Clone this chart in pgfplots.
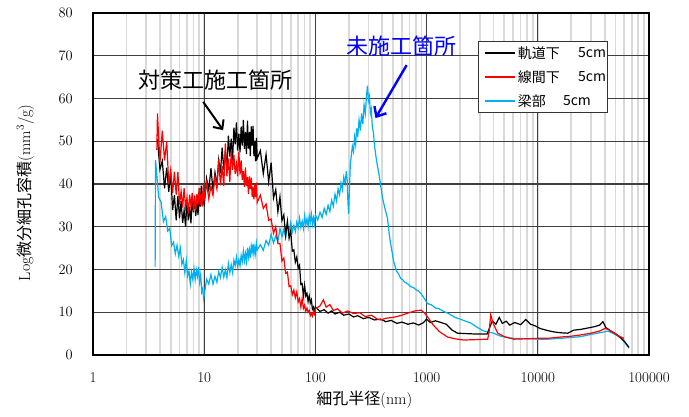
\documentclass[border=0pt]{standalone}
\usepackage{fontspec}
\usepackage{pgfplots}
\pgfplotsset{compat=1.18}
\usetikzlibrary{arrows.meta}
\newfontfamily\cjk{Noto Sans CJK JP}
\definecolor{skyb}{RGB}{0,176,240}
\begin{document}
\begin{tikzpicture}
\path[use as bounding box] (-93pt,-61pt) rectangle (596pt,355pt);
\begin{axis}[
  at={(0pt,0pt)}, anchor=south west,
  scale only axis, width=556pt, height=342pt,
  xmode=log, xmin=1, xmax=100000, ymin=0, ymax=80,
  ytick={0,10,...,80},
  xtick={1,10,100,1000,10000,100000},
  xticklabels={1,10,100,1000,10000,100000},
  xmajorgrids=true, xminorgrids=true, ymajorgrids=true,
  major grid style={black!75, line width=1.3pt},
  minor grid style={black!15, line width=1.7pt},
  major tick length=0pt, minor tick length=0pt,
  axis line style={line width=2.4pt},
  tick label style={font=\fontsize{15}{18}\selectfont},
  yticklabel style={anchor=east, inner sep=0pt, xshift=-20pt},
  xticklabel style={anchor=north, inner sep=0pt, yshift=-17pt},
  xlabel={{\cjk 細孔半径}(nm)},
  ylabel={Log{\cjk 微分細孔容積}(mm\textsuperscript{3}/g)},
  xlabel style={at={(axis description cs:0.488,-0.131)}, anchor=center, font=\fontsize{16}{19}\selectfont},
  ylabel style={at={(axis description cs:-0.122,0.474)}, anchor=center, font=\fontsize{16}{19}\selectfont},
  clip=false,
]
% blue: 梁部
\addplot[skyb, line width=1.2pt] coordinates {
(3.62,20.6)(3.65,45.6)(3.7,43.8)(3.9,36.9)(4.1,35.7)(4.3,31.2)(4.5,32.4)(4.7,29.0)(4.9,29.6)(5.1,25.6)(5.3,26.4)(5.5,23.7)(5.7,25.7)(5.9,23.1)(6.1,25.0)(6.3,21.2)(6.5,22.3)(6.7,19.2)(6.9,22.1)(7.1,18.5)(7.3,19.7)(7.5,16.6)(7.7,19.4)(7.9,17.7)(8.1,20.2)(8.3,17.6)(8.5,19.9)(8.7,18.4)(8.9,20.6)(9.1,17.1)(9.3,18.8)(9.5,14.7)(9.7,15.5)(9.9,13.2)
(10.5,17.7)(11,16.6)(11.5,18.8)(12,16.6)(12.5,18.4)(13,17.0)(13.5,19.5)(14,18.1)(14.5,20.5)(15,18.2)(15.5,19.9)(16,18.1)(16.5,21.4)(17,19.3)(17.5,21.1)(18,19.3)(18.5,22.2)(19,20.9)(19.5,22.9)(20,20.6)(20.5,22.3)(21,20.9)(21.5,23.3)(22,21.9)(22.5,24.3)(23,22.0)(23.5,23.7)(24,21.9)(24.5,25.1)(25,22.9)(25.5,24.6)(26,22.7)(26.5,25.5)(27,24.1)(27.5,26.0)(28,23.6)(28.5,25.2)(29,23.7)(29.5,26.1)(30,24.6)
(32,25.8)(34,24.5)(36,26.8)(38,25.7)(40,28.2)(42,26.2)(44,27.9)(46,26.5)(48,29.6)(50,27.7)(52,29.4)(54,27.6)(56,30.4)(58,29.1)(60,31.0)(62,28.8)(64,30.3)(66,28.9)(68,31.1)(70,29.8)(72,32.0)(74,29.8)(76,31.3)(78,29.6)(80,32.5)(82,30.4)(84,31.9)(86,30.0)(88,32.6)(90,31.1)(92,32.9)(94,30.6)(96,32.1)(98,30.6)(100,32.8)
(105,31.6)(110,33.4)(115,32.2)(120,34.3)(125,32.9)(130,35.0)(135,33.6)(140,36.2)(145,34.8)(150,37.6)(155,36.0)(160,38.9)(165,37.5)(170,40.3)(175,38.7)(180,41.6)(185,40.2)(190,43.0)(193,41.0)(196,36.0)(199,33.0)(202,38.0)(206,44.5)(210,46.5)(215,48.8)(220,47.6)(225,51.0)(230,49.2)(235,53.0)(240,51.0)(247,55.0)(254,52.5)(260,56.5)(267,54.0)(274,58.5)(281,56.5)(288,60.5)(294,63.0)(300,59.5)(306,60.5)(312,56.5)(318,57.5)(325,53.5)(333,52.0)(340,49.0)(350,46.5)(360,44.5)(372,42.5)(385,40.0)(400,37.0)(420,34.5)(445,32.0)(460,28.5)(475,26.0)(490,24.0)(504,22.0)(520,20.8)(540,19.5)(560,19.0)(583,18.0)(610,17.6)(640,17.0)(680,16.6)(717,16.0)(760,15.8)(800,15.3)(840,15.0)(883,14.5)(950,13.3)(1020,12.0)(1100,11.8)(1200,11.0)(1300,10.8)(1400,10.3)(1545,9.8)(1700,9.2)(1800,8.8)(2100,8.2)(2490,7.5)(2800,6.6)(3265,5.6)(3700,5.3)(4015,5.1)(4500,4.5)(5200,4.1)(6080,3.9)(8000,3.8)(10000,3.7)(12300,3.7)(16000,3.9)(20000,4.1)(24400,4.3)(30000,4.8)(36000,5.2)(42800,5.6)(48000,5.0)(52000,4.5)(56000,3.9)(61000,2.8)(66100,1.6)
};
% black: 軌道下
\addplot[black, line width=1.2pt] coordinates {
(3.8,50.5)(4.0,43.4)(4.2,45.4)(4.4,39.0)(4.6,43.8)(4.8,38.2)(5.0,42.6)(5.2,33.9)(5.4,37.4)(5.6,31.5)(5.8,37.2)(6.0,32.0)(6.2,36.0)(6.4,30.9)(6.6,33.9)(6.8,30.0)(7.0,36.0)(7.2,31.5)(7.4,34.7)(7.6,30.8)(7.8,36.4)(8.0,33.4)(8.2,37.3)(8.4,32.5)(8.6,35.8)(8.8,32.8)(9.0,37.6)(9.2,34.7)(9.4,39.6)(9.6,34.9)(9.8,38.3)(10.0,34.8)
(10.5,41.3)(11,38.5)(11.5,43.7)(12,38.5)(12.5,42.7)(13,39.7)(13.5,45.6)(14,42.5)(14.5,48.5)(15,43.4)(15.5,47.6)(16,43.7)(16.5,51.3)(17,46.4)(17.5,50.6)(18,45.5)(18.5,53.2)(19,49.3)(19.5,54.4)(20,47.8)(20.5,51.8)(21,47.4)(21.5,53.4)(22,49.0)(22.5,55.0)(23,48.2)(23.5,52.2)(24,47.0)(24.5,54.8)(25,48.3)(25.5,52.2)(26,46.5)(26.5,53.5)(27,49.0)(27.5,53.6)(28,46.5)(28.5,50.1)(29,45.3)(29.5,50.8)(30,46.0)
(32,47.8)(34,42.4)(36,46.9)(38,40.5)(40,45.0)(42,36.7)(44,38.7)(46,33.5)(48,37.0)(50,31.5)(52,32.8)(54,28.0)(56,31.3)(58,27.3)(60,29.1)(62,24.3)(64,24.6)(66,21.7)(68,22.9)(70,20.3)(72,21.0)(74,16.5)(76,16.7)(78,13.8)(80,16.3)(82,13.8)(84,14.4)(86,12.5)(88,13.8)(90,12.2)(92,12.9)(94,10.7)(96,11.2)(98,9.9)(100,11.2)
(110,10.2)(120,10.6)(130,9.8)(140,10.3)(150,9.6)(165,10.0)(180,9.3)(200,9.6)(220,8.9)(240,9.2)(270,8.5)(300,8.8)(340,8.2)(385,8.4)(430,7.8)(480,8.1)(540,7.4)(600,7.7)(680,7.2)(760,7.5)(850,7.0)(940,7.6)(1000,8.4)(1080,7.6)(1200,8.0)(1350,7.6)(1500,7.2)(1700,5.8)(1900,5.1)(2300,5.0)(2800,4.9)(3500,4.9)(3700,6.5)(3900,8.0)(4200,7.2)(4500,8.8)(4800,7.4)(5200,7.9)(5600,7.0)(6200,7.6)(7000,7.1)(7800,8.3)(8600,7.2)(9500,6.8)(10500,6.2)(12300,5.7)(14000,5.4)(16000,5.2)(18600,5.1)(21000,5.8)(24400,6.0)(28000,6.3)(32000,6.6)(36000,7.0)(38500,7.8)(41000,6.4)(45500,5.6)(50000,5.0)(56000,4.0)(61000,3.0)(66000,1.8)
};
% red: 線間下
\addplot[red, line width=1.2pt] coordinates {
(3.75,48)(3.8,56.5)(4.0,45.0)(4.2,52.5)(4.4,45.5)(4.6,50.0)(4.8,40.0)(5.0,43.3)(5.2,37.9)(5.4,42.9)(5.6,37.5)(5.8,42.8)(6.0,35.2)(6.2,38.3)(6.4,34.5)(6.6,39.0)(6.8,34.5)(7.0,36.8)(7.2,33.1)(7.4,37.5)(7.6,34.8)(7.8,37.9)(8.0,33.7)(8.2,36.3)(8.4,33.8)(8.6,37.7)(8.8,35.2)(9.0,39.1)(9.2,35.1)(9.4,37.8)(9.6,34.7)(9.8,39.9)(10.0,36.1)
(10.5,40.3)(11,36.5)(11.5,39.5)(12,37.4)(12.5,41.8)(13,39.0)(13.5,45.8)(14,39.7)(14.5,44.2)(15,39.5)(15.5,49.5)(16,41.8)(16.5,46.0)(17,40.5)(17.5,47.7)(18,43.3)(18.5,46.8)(19,42.4)(19.5,44.7)(20,41.8)(20.5,47.5)(21,42.2)(21.5,45.5)(22,40.9)(22.5,43.0)(23,39.3)(23.5,43.9)(24,39.5)(24.5,41.6)(25,37.7)(25.5,41.8)(26,38.8)(26.5,41.5)(27,37.0)(27.5,39.3)(28,36.4)(28.5,39.9)(29,37.0)(29.5,40.3)(30,35.7)
(32,37.4)(34,34.3)(36,35.3)(38,31.5)(40,31.8)(42,28.5)(44,30.0)(46,26.1)(48,26.1)(50,22.0)(52,22.7)(54,19.1)(56,19.4)(58,16.0)(60,16.2)(62,14.1)(64,15.2)(66,13.4)(68,14.8)(70,12.4)(72,13.2)(74,11.2)(76,13.2)(78,10.9)(80,11.7)(82,10.2)(84,11.0)(86,10.0)(88,10.4)(90,9.2)(92,9.7)(94,9.1)(96,10.1)(98,9.6)(100,10.8)
(110,11.5)(118,12.9)(125,11.2)(135,11.8)(145,10.4)(158,10.8)(175,9.8)(195,10.3)(220,9.7)(250,9.9)(280,9.0)(320,9.3)(360,8.4)(385,8.2)(430,8.6)(500,8.8)(580,9.2)(680,9.8)(780,10.3)(890,10.5)(960,9.8)(1020,8.9)(1150,7.0)(1300,5.5)(1545,4.2)(1800,3.8)(2150,3.5)(2800,3.6)(3545,3.7)(3650,5.5)(3775,9.4)(3950,7.5)(4365,5.1)(5000,4.3)(6080,3.7)(8000,3.8)(10000,3.9)(12300,3.9)(16000,4.2)(20000,4.4)(24400,4.7)(30000,5.1)(36000,5.6)(40000,6.2)(42800,6.0)(47000,5.4)(52000,4.6)(56000,4.2)(59600,3.9)
};

% legend (drawn by hand)
\draw[draw=black!80, line width=0.9pt, fill=white] (rel axis cs:0.6925,0.918) rectangle (rel axis cs:0.9245,0.7105);
\draw[black, line width=1.4pt] (rel axis cs:0.705,0.883) -- (rel axis cs:0.759,0.883);
\draw[red, line width=1.4pt] (rel axis cs:0.705,0.813) -- (rel axis cs:0.759,0.813);
\draw[skyb, line width=1.4pt] (rel axis cs:0.705,0.743) -- (rel axis cs:0.759,0.743);
\node[anchor=west, inner sep=0pt, font=\cjk\fontsize{14}{16}\selectfont] at (rel axis cs:0.764,0.883) {軌道下};
\node[anchor=west, inner sep=0pt, font=\cjk\fontsize{14}{16}\selectfont] at (rel axis cs:0.764,0.813) {線間下};
\node[anchor=west, inner sep=0pt, font=\cjk\fontsize{14}{16}\selectfont] at (rel axis cs:0.764,0.743) {梁部};
\node[anchor=west, inner sep=0pt, font=\cjk\fontsize{14}{16}\selectfont] at (rel axis cs:0.8723,0.883) {5cm};
\node[anchor=west, inner sep=0pt, font=\cjk\fontsize{14}{16}\selectfont] at (rel axis cs:0.8723,0.813) {5cm};
\node[anchor=west, inner sep=0pt, font=\cjk\fontsize{14}{16}\selectfont] at (rel axis cs:0.845,0.743) {5cm};

\node[font=\cjk\fontsize{22}{25}\selectfont, anchor=center] at (axis cs:12.6,64.3) {対策工施工箇所};
\draw[black, line width=2pt, -{Straight Barb[length=7pt,width=13pt]}] (axis cs:9.8,59.2) -- (axis cs:14.8,52.6);
\node[font=\cjk\fontsize{22}{25}\selectfont, text=blue, anchor=center] at (axis cs:595,72.3) {未施工箇所};
\draw[blue, line width=2.4pt, -{Straight Barb[length=8pt,width=14pt]}] (axis cs:661,67.8) -- (axis cs:347,55.4);
\end{axis}
\end{tikzpicture}
\end{document}
